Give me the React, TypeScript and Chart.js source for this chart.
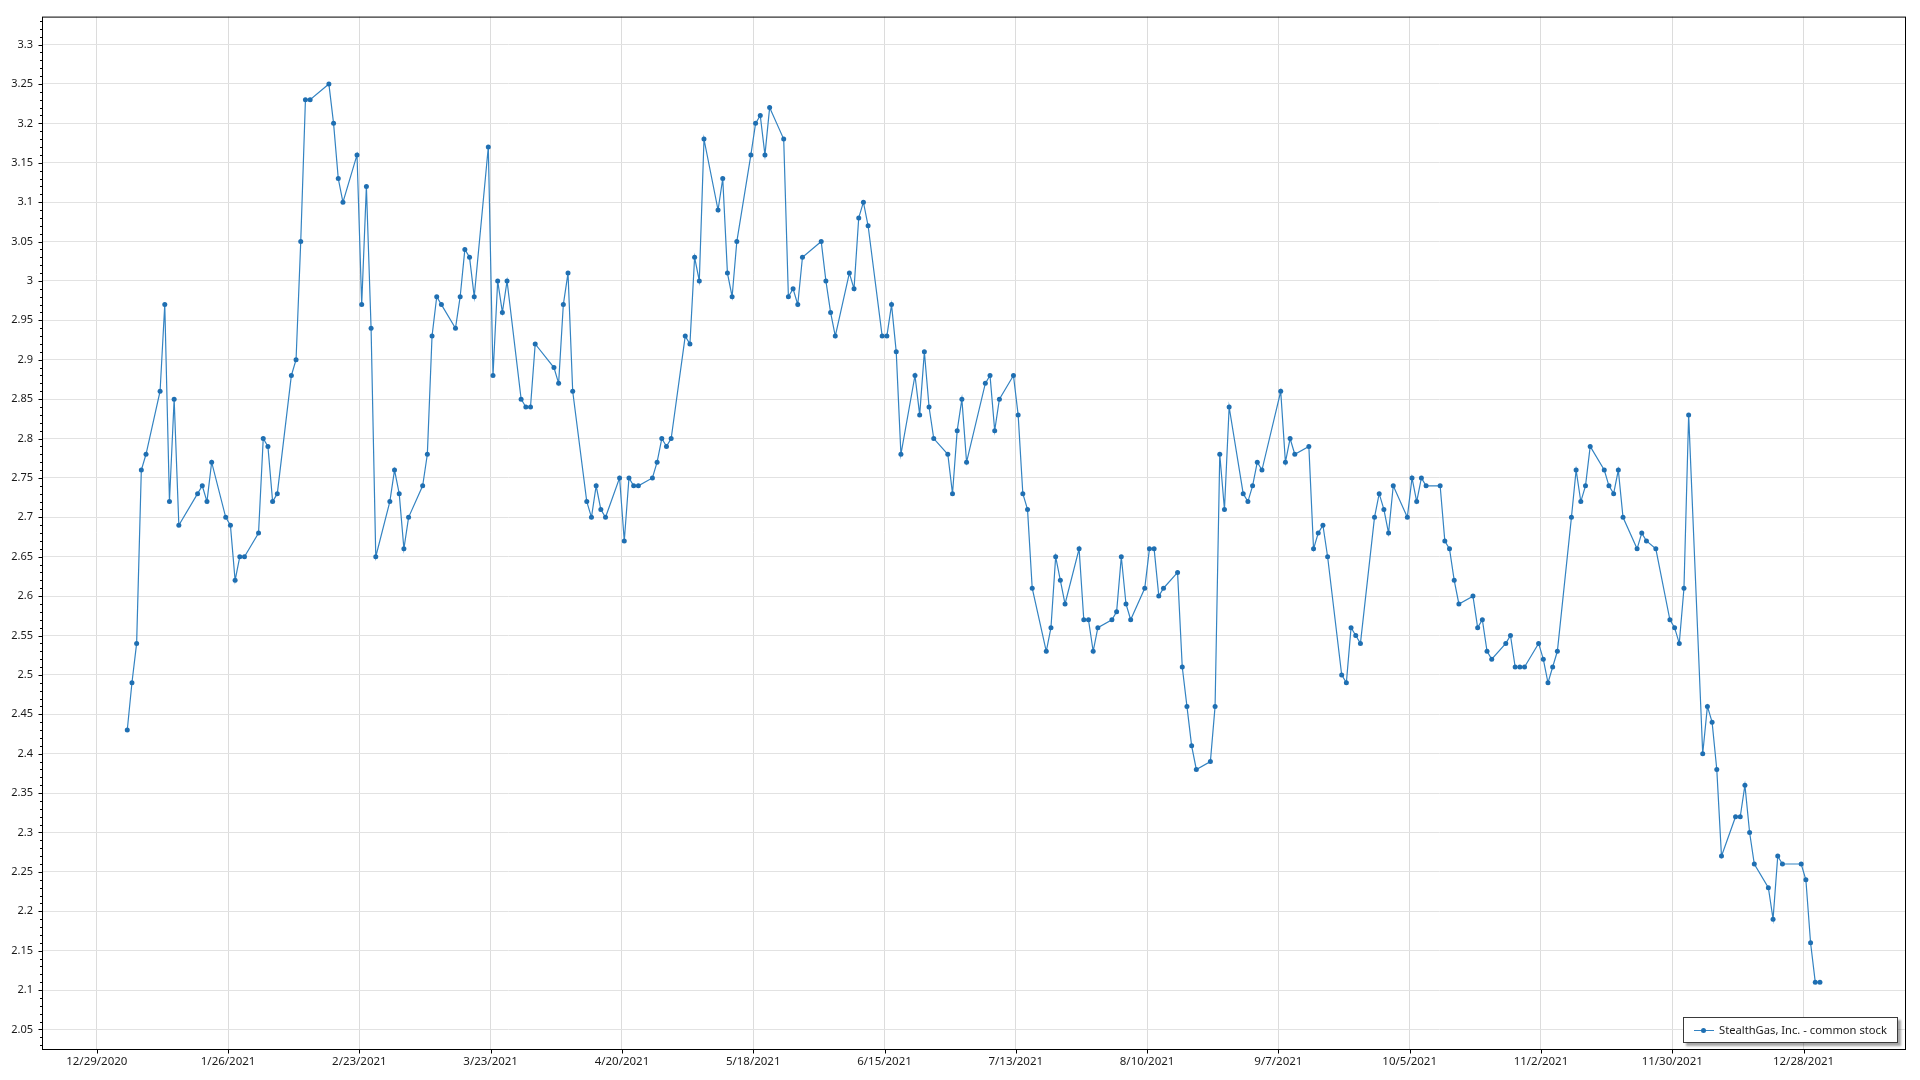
import React, { useEffect, useRef } from "react";
import { Chart, registerables } from "chart.js";

Chart.register(...registerables);

// ---------- data ----------
const SERIES_NAME = "StealthGas, Inc. - common stock";
const YEAR = 2021;
const SAMPLE_TIME_OF_DAY = 0.5; // quotes stamped at noon

const JAN_DAYS = [4, 5, 6, 7, 8, 11, 12, 13, 14, 15, 19, 20, 21, 22, 25, 26, 27, 28, 29];
const JAN_CLOSE = [2.43, 2.49, 2.54, 2.76, 2.78, 2.86, 2.97, 2.72, 2.85, 2.69, 2.73, 2.74, 2.72, 2.77, 2.7, 2.69, 2.62, 2.65, 2.65];

const FEB_DAYS = [1, 2, 3, 4, 5, 8, 9, 10, 11, 12, 16, 17, 18, 19, 22, 23, 24, 25, 26];
const FEB_CLOSE = [2.68, 2.8, 2.79, 2.72, 2.73, 2.88, 2.9, 3.05, 3.23, 3.23, 3.25, 3.2, 3.13, 3.1, 3.16, 2.97, 3.12, 2.94, 2.65];

const MAR_DAYS = [1, 2, 3, 4, 5, 8, 9, 10, 11, 12, 15, 16, 17, 18, 19, 22, 23, 24, 25, 26, 29, 30, 31];
const MAR_CLOSE = [2.72, 2.76, 2.73, 2.66, 2.7, 2.74, 2.78, 2.93, 2.98, 2.97, 2.94, 2.98, 3.04, 3.03, 2.98, 3.17, 2.88, 3.0, 2.96, 3.0, 2.85, 2.84, 2.84];

const APR_DAYS = [1, 5, 6, 7, 8, 9, 12, 13, 14, 15, 16, 19, 20, 21, 22, 23, 26, 27, 28, 29, 30];
const APR_CLOSE = [2.92, 2.89, 2.87, 2.97, 3.01, 2.86, 2.72, 2.7, 2.74, 2.71, 2.7, 2.75, 2.67, 2.75, 2.74, 2.74, 2.75, 2.77, 2.8, 2.79, 2.8];

const MAY_DAYS = [3, 4, 5, 6, 7, 10, 11, 12, 13, 14, 17, 18, 19, 20, 21, 24, 25, 26, 27, 28];
const MAY_CLOSE = [2.93, 2.92, 3.03, 3.0, 3.18, 3.09, 3.13, 3.01, 2.98, 3.05, 3.16, 3.2, 3.21, 3.16, 3.22, 3.18, 2.98, 2.99, 2.97, 3.03];

const JUN_DAYS = [1, 2, 3, 4, 7, 8, 9, 10, 11, 14, 15, 16, 17, 18, 21, 22, 23, 24, 25, 28, 29, 30];
const JUN_CLOSE = [3.05, 3.0, 2.96, 2.93, 3.01, 2.99, 3.08, 3.1, 3.07, 2.93, 2.93, 2.97, 2.91, 2.78, 2.88, 2.83, 2.91, 2.84, 2.8, 2.78, 2.73, 2.81];

const JUL_DAYS = [1, 2, 6, 7, 8, 9, 12, 13, 14, 15, 16, 19, 20, 21, 22, 23, 26, 27, 28, 29, 30];
const JUL_CLOSE = [2.85, 2.77, 2.87, 2.88, 2.81, 2.85, 2.88, 2.83, 2.73, 2.71, 2.61, 2.53, 2.56, 2.65, 2.62, 2.59, 2.66, 2.57, 2.57, 2.53, 2.56];

const AUG_DAYS = [2, 3, 4, 5, 6, 9, 10, 11, 12, 13, 16, 17, 18, 19, 20, 23, 24, 25, 26, 27, 30, 31];
const AUG_CLOSE = [2.57, 2.58, 2.65, 2.59, 2.57, 2.61, 2.66, 2.66, 2.6, 2.61, 2.63, 2.51, 2.46, 2.41, 2.38, 2.39, 2.46, 2.78, 2.71, 2.84, 2.73, 2.72];

const SEP_DAYS = [1, 2, 3, 7, 8, 9, 10, 13, 14, 15, 16, 17, 20, 21, 22, 23, 24, 27, 28, 29, 30];
const SEP_CLOSE = [2.74, 2.77, 2.76, 2.86, 2.77, 2.8, 2.78, 2.79, 2.66, 2.68, 2.69, 2.65, 2.5, 2.49, 2.56, 2.55, 2.54, 2.7, 2.73, 2.71, 2.68];

const OCT_DAYS = [1, 4, 5, 6, 7, 8, 11, 12, 13, 14, 15, 18, 19, 20, 21, 22, 25, 26, 27, 28, 29];
const OCT_CLOSE = [2.74, 2.7, 2.75, 2.72, 2.75, 2.74, 2.74, 2.67, 2.66, 2.62, 2.59, 2.6, 2.56, 2.57, 2.53, 2.52, 2.54, 2.55, 2.51, 2.51, 2.51];

const NOV_DAYS = [1, 2, 3, 4, 5, 8, 9, 10, 11, 12, 15, 16, 17, 18, 19, 22, 23, 24, 26, 29, 30];
const NOV_CLOSE = [2.54, 2.52, 2.49, 2.51, 2.53, 2.7, 2.76, 2.72, 2.74, 2.79, 2.76, 2.74, 2.73, 2.76, 2.7, 2.66, 2.68, 2.67, 2.66, 2.57, 2.56];

const DEC_DAYS = [1, 2, 3, 6, 7, 8, 9, 10, 13, 14, 15, 16, 17, 20, 21, 22, 23, 27, 28, 29, 30, 31];
const DEC_CLOSE = [2.54, 2.61, 2.83, 2.4, 2.46, 2.44, 2.38, 2.27, 2.32, 2.32, 2.36, 2.3, 2.26, 2.23, 2.19, 2.27, 2.26, 2.26, 2.24, 2.16, 2.11, 2.11];

const X_TICK_LABELS = [
  "12/29/2020", "1/26/2021", "2/23/2021", "3/23/2021", "4/20/2021", "5/18/2021", "6/15/2021",
  "7/13/2021", "8/10/2021", "9/7/2021", "10/5/2021", "11/2/2021", "11/30/2021", "12/28/2021",
];
const Y_TICKS = [
  2.05, 2.1, 2.15, 2.2, 2.25, 2.3, 2.35, 2.4, 2.45, 2.5, 2.55, 2.6, 2.65, 2.7, 2.75, 2.8, 2.85,
  2.9, 2.95, 3.0, 3.05, 3.1, 3.15, 3.2, 3.25, 3.3,
];
const Y_MINOR_STEP = 0.01;
const Y_MIN = 2.0252;
const Y_MAX = 3.3355;

// ---------- helpers ----------
const dayNumber = (y: number, m: number, d: number) => Date.UTC(y, m - 1, d) / 86400000;
const parseMDY = (s: string) => {
  const [m, d, y] = s.split("/").map(Number);
  return dayNumber(y, m, d);
};
const X_MIN = parseMDY(X_TICK_LABELS[0]) - 11.47;
const X_MAX = parseMDY(X_TICK_LABELS[0]) + 385.64;

const MONTHS: [number[], number[]][] = [
  [JAN_DAYS, JAN_CLOSE], [FEB_DAYS, FEB_CLOSE], [MAR_DAYS, MAR_CLOSE], [APR_DAYS, APR_CLOSE],
  [MAY_DAYS, MAY_CLOSE], [JUN_DAYS, JUN_CLOSE], [JUL_DAYS, JUL_CLOSE], [AUG_DAYS, AUG_CLOSE],
  [SEP_DAYS, SEP_CLOSE], [OCT_DAYS, OCT_CLOSE], [NOV_DAYS, NOV_CLOSE], [DEC_DAYS, DEC_CLOSE],
];

const buildPoints = () => {
  const pts: { x: number; y: number }[] = [];
  MONTHS.forEach(([days, closes], mi) => {
    days.forEach((d, i) => {
      pts.push({ x: dayNumber(YEAR, mi + 1, d) + SAMPLE_TIME_OF_DAY, y: closes[i] });
    });
  });
  return pts;
};

const LINE_COLOR = "#3383c2";
const POINT_COLOR = "#1f6fb2";
const FONT_FAMILY = "'Segoe UI', 'Noto Sans', sans-serif";
const TEXT_COLOR = "#1a1a1a";

const framePlugin = {
  id: "frame",
  afterDraw(chart: any) {
    const { ctx, chartArea: a, scales } = chart;
    ctx.save();
    ctx.strokeStyle = "#000";
    ctx.lineWidth = 1;
    const L = a.left - 0.5;
    const T = a.top + 0.5;
    const R = a.right + 0.5;
    const B = a.bottom + 0.5;
    ctx.strokeRect(L, T, R - L, B - T);
    ctx.beginPath();
    // y major & minor ticks
    const yScale = scales.y;
    const kStart = Math.ceil(Y_MIN / Y_MINOR_STEP - 1e-6);
    const kEnd = Math.floor(Y_MAX / Y_MINOR_STEP + 1e-6);
    for (let k = kStart; k <= kEnd; k++) {
      const v = k * Y_MINOR_STEP;
      const isMajor = Y_TICKS.some((t) => Math.abs(t - v) < 1e-6);
      const py = Math.round(yScale.getPixelForValue(v)) + 0.5;
      ctx.moveTo(L - (isMajor ? 4 : 2.5), py);
      ctx.lineTo(L, py);
    }
    // x ticks
    const xScale = scales.x;
    X_TICK_LABELS.forEach((lab) => {
      const px = Math.round(xScale.getPixelForValue(parseMDY(lab))) + 0.5;
      ctx.moveTo(px, B);
      ctx.lineTo(px, B + 4);
    });
    ctx.stroke();
    ctx.restore();
  },
};

export default function App() {
  const canvasRef = useRef<HTMLCanvasElement | null>(null);

  useEffect(() => {
    document.body.style.margin = "0";
    const canvas = canvasRef.current;
    if (!canvas) return;
    const chart = new Chart(canvas, {
      type: "line",
      data: {
        datasets: [
          {
            label: SERIES_NAME,
            data: buildPoints(),
            borderColor: LINE_COLOR,
            borderWidth: 1.2,
            pointRadius: 2.5,
            pointBackgroundColor: POINT_COLOR,
            pointBorderColor: POINT_COLOR,
            pointBorderWidth: 0,
            tension: 0,
            fill: false,
          },
        ],
      },
      options: {
        responsive: false,
        maintainAspectRatio: false,
        devicePixelRatio: 1,
        animation: false,
        events: [],
        layout: { padding: { left: 0, top: 15, right: 15, bottom: 0 } },
        plugins: { legend: { display: false }, tooltip: { enabled: false } },
        scales: {
          x: {
            type: "linear",
            min: X_MIN,
            max: X_MAX,
            afterBuildTicks: (scale: any) => {
              scale.ticks = X_TICK_LABELS.map((l) => ({ value: parseMDY(l) }));
            },
            afterFit: (scale: any) => {
              scale.height = 31;
            },
            grid: { color: "#dcdcdc", lineWidth: 1, drawTicks: false },
            border: { display: false },
            ticks: {
              autoSkip: false,
              maxRotation: 0,
              minRotation: 0,
              padding: 6,
              color: TEXT_COLOR,
              font: { family: FONT_FAMILY, size: 11.5 },
              callback: (_v: any, i: number) => X_TICK_LABELS[i],
            },
          },
          y: {
            type: "linear",
            min: Y_MIN,
            max: Y_MAX,
            afterBuildTicks: (scale: any) => {
              scale.ticks = Y_TICKS.map((v) => ({ value: v }));
            },
            afterFit: (scale: any) => {
              scale.width = 43;
            },
            grid: { color: "#e2e2e2", lineWidth: 1, drawTicks: false },
            border: { display: false },
            ticks: {
              padding: 10,
              color: TEXT_COLOR,
              font: { family: FONT_FAMILY, size: 11 },
              callback: (v: any) => String(Number(Number(v).toFixed(2))),
            },
          },
        },
      },
      plugins: [framePlugin],
    });
    return () => chart.destroy();
  }, []);

  return (
    <div style={{ position: "relative", width: 1920, height: 1080, background: "#fff" }}>
      <canvas ref={canvasRef} width={1920} height={1080} style={{ display: "block", width: 1920, height: 1080 }} />
      <div
        style={{
          position: "absolute",
          left: 1683,
          top: 1017,
          width: 213,
          height: 24,
          border: "1px solid #3a3a3a",
          background: "#fff",
          boxShadow: "3px 3px 2px rgba(0,0,0,0.35)",
          fontFamily: FONT_FAMILY,
          fontSize: 11.2,
          color: TEXT_COLOR,
        }}
      >
        <div style={{ position: "absolute", left: 10, top: 12, width: 20, height: 0, borderTop: `1.5px solid ${LINE_COLOR}` }} />
        <div
          style={{
            position: "absolute",
            left: 17,
            top: 10,
            width: 5,
            height: 5,
            borderRadius: "50%",
            background: POINT_COLOR,
          }}
        />
        <div style={{ position: "absolute", left: 35, top: 0, height: 24, lineHeight: "24px", whiteSpace: "nowrap" }}>
          {SERIES_NAME}
        </div>
      </div>
    </div>
  );
}
